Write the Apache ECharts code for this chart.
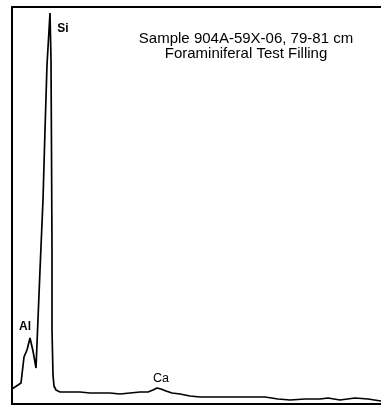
<!DOCTYPE html>
<html>
<head>
<meta charset="utf-8">
<script src="https://cdn.jsdelivr.net/npm/echarts@6/dist/echarts.min.js"></script>
<style>html,body{margin:0;padding:0;background:#fff}#c{width:381px;height:408px}</style>
</head>
<body>
<div id="c"></div>
<script>
// Spectrum: channel vs counts (arbitrary units)
const channels = [0,3,6,9,10,12,15,18,21,24,28,31,33,35,38,39,39.5,40,40,41,42,44,48,58,68,78,88,98,108,118,128,136,141,145,149,154,160,168,178,188,208,228,253,266,278,293,308,316,328,343,356,369];
const counts   = [15,17,19,21,23,47,54,66,53,36,134,204,274,339,391,344,254,154,74,29,18,14,12,12,12,11,11,11,10,11,12,12,14,16,15,13,11,10,8,7,7,7,7,5,4,5,5,6,4,6,5,3];
const peakNames = ['Al','Si','Ca'];
const peakChannels = [18,38,145];
const peakCounts = [66,391,16];
const titleLines = ['Sample 904A-59X-06, 79-81 cm','Foraminiferal Test Filling'];

const spectrum = channels.map((c,i)=>[c,counts[i]]);
const labelOffsets = {Al:[-5,-11],Si:[13,16],Ca:[4,-9]};
const labelWeights = {Al:'bold',Si:'bold',Ca:'normal'};
const labelSizes = {Al:12,Si:12,Ca:12.5};
const peaks = peakNames.map((n,i)=>({
  value:[peakChannels[i],peakCounts[i]],
  name:n,
  label:{show:true,formatter:n,position:'inside',offset:labelOffsets[n],
         fontWeight:labelWeights[n],fontSize:labelSizes[n],color:'#000',textBorderWidth:0}
}));

const frameLine = {show:true,lineStyle:{color:'#000',width:2}};
const chart = echarts.init(document.getElementById('c'));
chart.setOption({
  animation:false,
  backgroundColor:'#fff',
  title:{
    text:titleLines.join('\n'),
    left:241, top:26, textAlign:'center',
    textStyle:{fontFamily:'Liberation Sans',fontSize:15,fontWeight:'normal',color:'#000',lineHeight:15}
  },
  grid:{left:12,top:7,right:0,bottom:4,show:false,outerBoundsMode:'none'},
  xAxis:[
    {type:'value',min:0,max:369,position:'bottom',axisLine:frameLine,axisTick:{show:false},axisLabel:{show:false},splitLine:{show:false}},
    {type:'value',min:0,max:369,position:'top',axisLine:frameLine,axisTick:{show:false},axisLabel:{show:false},splitLine:{show:false}}
  ],
  yAxis:{type:'value',min:0,max:397,position:'left',axisLine:frameLine,axisTick:{show:false},axisLabel:{show:false},splitLine:{show:false}},
  series:[
    {type:'line',data:spectrum,symbol:'none',lineStyle:{color:'#000',width:1.7},z:2},
    {type:'scatter',data:peaks,symbolSize:0,itemStyle:{opacity:1,color:'#000'},
     label:{fontFamily:'Liberation Sans',color:'#000'},z:3}
  ]
});
</script>
</body>
</html>
